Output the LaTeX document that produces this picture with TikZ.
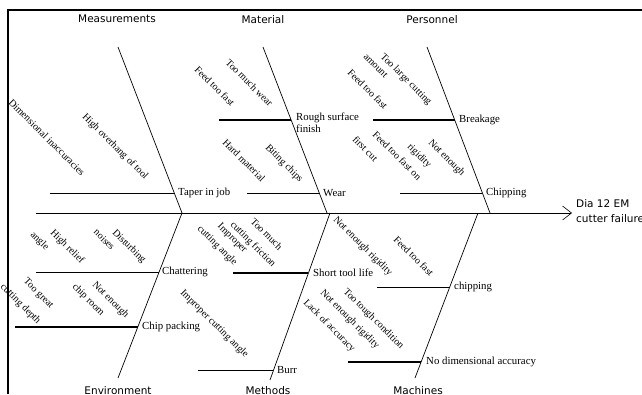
\documentclass[tikz,border=0pt]{standalone}
\usepackage{fontspec}
\setmainfont{Liberation Serif}
\newfontfamily\catfont{DejaVu Sans}
\usetikzlibrary{arrows.meta, positioning}

\begin{document}
\begin{tikzpicture}[x=1pt, y=-1pt,
    cat/.style={font=\catfont\fontsize{10.5}{15}\selectfont, inner sep=0pt},
    cause/.style={inner sep=0pt, font=\fontsize{10.8}{12}\selectfont},
    why/.style={anchor=north west, inner sep=0pt, rotate=-45, font=\fontsize{10}{11}\selectfont},
    bone/.style={line width=0.7pt},
    thin/.style={line width=0.6pt},
    mid/.style={line width=0.9pt},
    heavy/.style={line width=1.5pt}]
  \useasboundingbox (0,0) rectangle (642,394);
  % frame
  \draw[line width=1.4pt] (8,394) -- (8,10) -- (642,10);
  % spine
  \coordinate (tail) at (36,213);
  \coordinate (head) at (572,213);
  \draw[thin, -{Straight Barb[length=9pt,width=14pt]}] (tail) -- (head);
  \node[cat, anchor=north west, align=left] (effect) at (576,199) {Dia 12 EM\\cutter failure};

  % Measurements
  \coordinate (meaT) at (118,47);
  \coordinate (meaB) at (182,213);
  \draw[bone] (meaT) -- (meaB);
  \node[cat, anchor=north] (meaLab) at (117,15) {Measurements};
  \coordinate (taperS) at (50,193);
  \coordinate (taperJ) at (174,193);
  \draw[mid] (taperS) -- (taperJ);
  \node[cause, right=4pt of taperJ] (taper) {Taper in job};
  \node[why] (dimInacc) at (13,98) {Dimensional inaccuracies};
  \node[why] (overhang) at (87,112) {High overhang of tool};

  % Material
  \coordinate (matT) at (263,47);
  \coordinate (matB) at (327,213);
  \draw[bone] (matT) -- (matB);
  \node[cat, anchor=north] (matLab) at (263,15) {Material};
  \coordinate (roughS) at (219,120);
  \coordinate (roughJ) at (291,120);
  \draw[heavy] (roughS) -- (roughJ);
  \node[cause, anchor=north west, align=left] (rough) at (296,113) {Rough surface\\finish};
  \coordinate (wearS) at (247,193);
  \coordinate (wearJ) at (319,193);
  \draw[mid] (wearS) -- (wearJ);
  \node[cause, right=4pt of wearJ] (wear) {Wear};
  \node[why] (matFeed) at (199,65) {Feed too fast};
  \node[why] (muchWear) at (230,58) {Too much wear};
  \node[why] (hardMat) at (227,138) {Hard material};
  \node[why] (biting) at (270,143) {Biting chips};

  % Personnel
  \coordinate (perT) at (427,47);
  \coordinate (perB) at (490,213);
  \draw[bone] (perT) -- (perB);
  \node[cat, anchor=north] (perLab) at (432,15) {Personnel};
  \coordinate (breakS) at (373,120);
  \coordinate (breakJ) at (455,120);
  \draw[heavy] (breakS) -- (breakJ);
  \node[cause, right=4pt of breakJ] (breakage) {Breakage};
  \coordinate (chipS) at (400,193);
  \coordinate (chipJ) at (482,193);
  \draw[mid] (chipS) -- (chipJ);
  \node[cause, right=4pt of chipJ] (chipUp) {Chipping};
  \node[why] (largeCut) at (385,52) {Too large cutting};
  \node[why] (amount) at (367,53) {amount};
  \node[why] (perFeed) at (352,68) {Feed too fast};
  \node[why] (firstA) at (377,130) {Feed too fast on};
  \node[why] (firstB) at (357,135) {first cut};
  \node[why] (rigidA) at (433,138) {Not enough};
  \node[why] (rigidB) at (412,142) {rigidity};

  % Environment
  \coordinate (envT) at (182,213);
  \coordinate (envB) at (118,378);
  \draw[bone] (envT) -- (envB);
  \node[cat, anchor=north] (envLab) at (118,386) {Environment};
  \coordinate (chatS) at (36,272);
  \coordinate (chatJ) at (159,272);
  \draw[thin] (chatS) -- (chatJ);
  \node[cause, right=3pt of chatJ] (chatter) {Chattering};
  \coordinate (packS) at (15,327);
  \coordinate (packJ) at (138,327);
  \draw[heavy] (packS) -- (packJ);
  \node[cause, right=4pt of packJ] (packing) {Chip packing};
  \node[why] (reliefA) at (55,228) {High relief};
  \node[why] (reliefB) at (35,230) {angle};
  \node[why] (noiseA) at (117,228) {Disturbing};
  \node[why] (noiseB) at (98,228) {noises};
  \node[why] (depthA) at (28,277) {Too great};
  \node[why] (depthB) at (5,282) {cutting depth};
  \node[why] (roomA) at (97,280) {Not enough};
  \node[why] (roomB) at (77,282) {chip room};

  % Methods
  \coordinate (metT) at (330,213);
  \coordinate (metB) at (270,380);
  \draw[bone] (metT) -- (metB);
  \node[cat, anchor=north] (metLab) at (268,386) {Methods};
  \coordinate (lifeS) at (233,273);
  \coordinate (lifeJ) at (308,273);
  \draw[heavy] (lifeS) -- (lifeJ);
  \node[cause, right=5pt of lifeJ] (toolLife) {Short tool life};
  \coordinate (burrS) at (198,370);
  \coordinate (burrJ) at (273,370);
  \draw[mid] (burrS) -- (burrJ);
  \node[cause, right=4pt of burrJ] (burr) {Burr};
  \node[why] (frictA) at (255,217) {Too much};
  \node[why] (frictB) at (235,220) {cutting friction};
  \node[why] (angleA) at (222,222) {Improper};
  \node[why] (angleB) at (202,224) {cutting angle};
  \node[why] (angleLong) at (185,288) {Improper cutting angle};

  % Machines
  \coordinate (macT) at (478,213);
  \coordinate (macB) at (415,378);
  \draw[bone] (macT) -- (macB);
  \node[cat, anchor=north] (macLab) at (418,386) {Machines};
  \coordinate (chipLowS) at (377,287);
  \coordinate (chipLowJ) at (450,287);
  \draw[thin] (chipLowS) -- (chipLowJ);
  \node[cause, right=4pt of chipLowJ] (chipLow) {chipping};
  \coordinate (accS) at (348,362);
  \coordinate (accJ) at (421,362);
  \draw[heavy] (accS) -- (accJ);
  \node[cause, right=5pt of accJ] (noAcc) {No dimensional accuracy};
  \node[why] (macRigid) at (338,215) {Not enough rigidity};
  \node[why] (macFeed) at (398,235) {Feed too fast};
  \node[why] (tough) at (348,287) {Too tough condition};
  \node[why] (macRigidB) at (325,288) {Not enough rigidity};
  \node[why] (lack) at (308,298) {Lack of accuracy};
\end{tikzpicture}
\end{document}
